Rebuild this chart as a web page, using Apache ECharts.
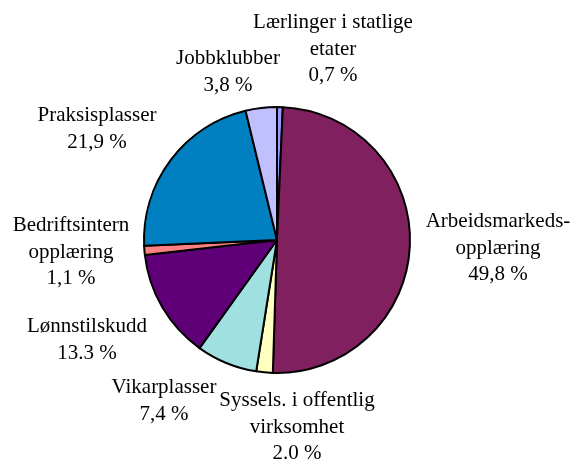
<!DOCTYPE html>
<html>
<head>
<meta charset="utf-8">
<script src="https://cdn.jsdelivr.net/npm/echarts@6/dist/echarts.min.js"></script>
<style>
  html, body { margin: 0; padding: 0; background: #fff; }
  #chart { width: 573px; height: 460px; }
</style>
</head>
<body>
<div id="chart"></div>
<script>
// slices, clockwise from 12 o'clock
const categories = [
  'Lærlinger i statlige\netater',
  'Arbeidsmarkeds-\nopplæring',
  'Syssels. i offentlig\nvirksomhet',
  'Vikarplasser',
  'Lønnstilskudd',
  'Bedriftsintern\nopplæring',
  'Praksisplasser',
  'Jobbklubber'
]
const values = [0.7, 49.8, 2.0, 7.4, 13.3, 1.1, 21.9, 3.8]
const pctLabels = ['0,7 %', '49,8 %', '2.0 %', '7,4 %', '13.3 %', '1,1 %', '21,9 %', '3,8 %']

const colors = ['#9999ff', '#80205f', '#ffffc0', '#a0e0e0', '#600078', '#ff8080', '#0080c0', '#c0c0ff']
// label centre points (px)
const labelPos = [
  [333, 49], [498, 248], [297, 427], [164, 401],
  [87, 340], [71, 252], [97, 129], [228, 72]
]

const chart = echarts.init(document.getElementById('chart'))
chart.setOption({
  animation: false,
  series: [{
    type: 'pie',
    center: [277, 240],
    radius: 133,
    startAngle: 90,
    clockwise: true,
    silent: true,
    data: categories.map((c, i) => ({
      name: c,
      value: values[i],
      itemStyle: { color: colors[i] }
    })),
    itemStyle: { borderColor: '#000', borderWidth: 2 },
    label: {
      show: true,
      position: 'outside',
      fontFamily: 'Liberation Serif',
      fontSize: 21,
      lineHeight: 26.5,
      color: '#000',
      align: 'center',
      overflow: 'none',
      width: 300,
      formatter: p => p.name + '\n' + pctLabels[p.dataIndex]
    },
    labelLine: { show: false },
    labelLayout: p => ({
      x: labelPos[p.dataIndex][0],
      y: labelPos[p.dataIndex][1],
      align: 'center',
      verticalAlign: 'middle'
    })
  }]
})
</script>
</body>
</html>
